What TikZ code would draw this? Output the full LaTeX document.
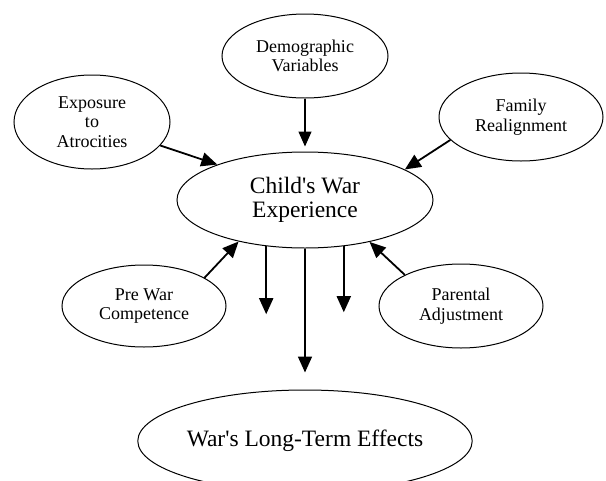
\documentclass[tikz,border=0pt]{standalone}
\usepackage{fontspec}
\setmainfont{Liberation Serif}
\usetikzlibrary{shapes.geometric,arrows.meta}
\newcommand{\apos}{\textquotesingle}
\begin{document}
\begin{tikzpicture}[x=1pt,y=-1pt,
  oval/.style={ellipse,draw,line width=1pt,inner sep=0pt,align=center},
  small/.style={oval,font=\fontsize{18}{19.5}\selectfont},
  big/.style={oval,font=\fontsize{23.5}{24}\selectfont},
  link/.style={line width=1.8pt,-{Triangle[length=16pt,width=14pt]}},
  thin link/.style={line width=1.3pt,-{Triangle[length=15pt,width=13pt]}}]
\useasboundingbox (0,0) rectangle (606,480);
\clip (0,0) rectangle (606,480);

% outer factors
\node[small,minimum width=166pt,minimum height=84pt] (demo) at (305,56) {Demographic\\Variables};
\node[small,minimum width=156pt,minimum height=94pt] (expo) at (92,122) {Exposure\\to\\Atrocities};
\node[small,minimum width=164pt,minimum height=88pt] (fam) at (521,117) {Family\\Realignment};
\node[small,minimum width=164pt,minimum height=82pt] (pre) at (144,306) {Pre War\\Competence};
\node[small,minimum width=164pt,minimum height=84pt] (par) at (461,306) {Parental\\Adjustment};

% central experience and outcome
\node[big,minimum width=256pt,minimum height=96pt] (child) at (305,200) {Child\apos s War\\Experience};
\node[big,minimum width=332pt,minimum height=102pt] (eff) at (305,441) {War\apos s Long-Term Effects};

% influences on the child's experience
\draw[thin link] (demo.south) -- ([yshift=5pt]child.north);
\draw[link] (expo.341) -- (child.158);
\draw[link] (fam.198) -- (child.17);
\draw[link] (pre.25) -- (child.212);
\draw[link] (par.151) -- (child.327);

% effects of the experience
\draw[link] (child.230) -- ++(0,68);
\draw[link] (child.310) -- ++(0,66);
\draw[link,shorten >=17pt] (child.south) -- (eff.north);
\end{tikzpicture}
\end{document}
